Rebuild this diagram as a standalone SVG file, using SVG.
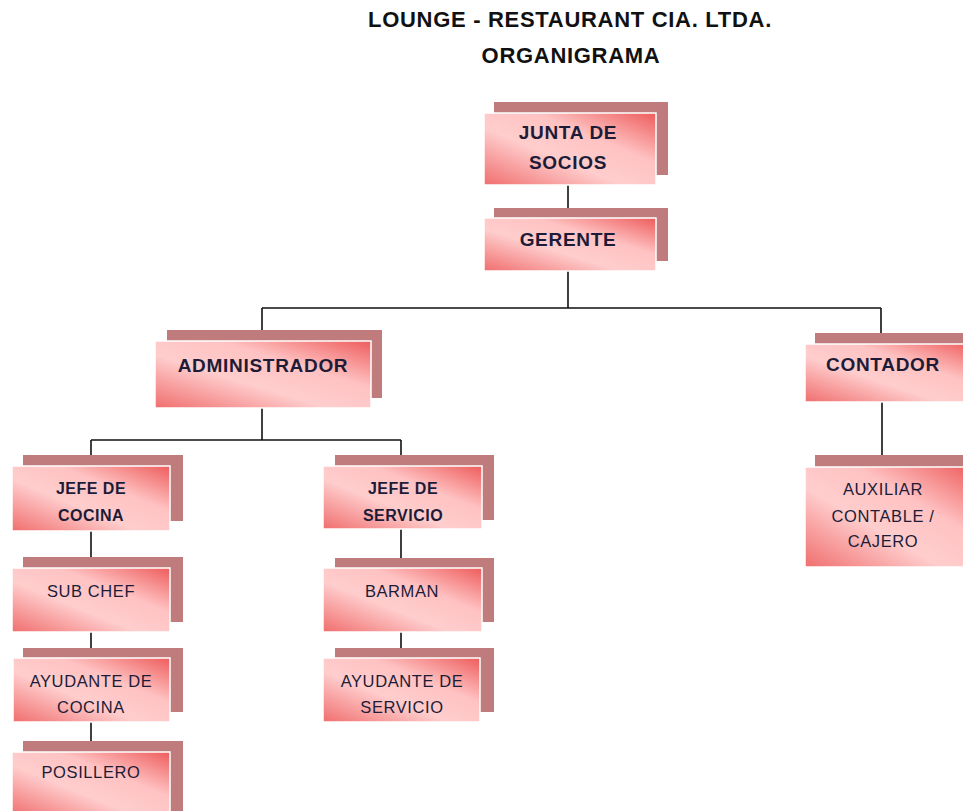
<svg xmlns="http://www.w3.org/2000/svg" width="963" height="811" viewBox="0 0 963 811">
  <defs>
    <linearGradient id="boxFill" x1="1" y1="0" x2="0" y2="1">
      <stop offset="0" stop-color="#ee5c5c"/>
      <stop offset="0.35" stop-color="#ffc2c2"/>
      <stop offset="0.6" stop-color="#ffcdcd"/>
      <stop offset="1" stop-color="#f06e6e"/>
    </linearGradient>
  </defs>
  <style>
    .shadow { fill: #c07c7c; }
    .box { fill: url(#boxFill); stroke: #ffffff; stroke-width: 1.5; }
    .title { font-family: "Liberation Sans", Arial, sans-serif; font-weight: bold; font-size: 22px; letter-spacing: 0.7px; fill: #111111; text-anchor: middle; }
    .lblB { font-family: "Liberation Sans", Arial, sans-serif; font-weight: bold; font-size: 19px; letter-spacing: 0.7px; fill: #1c1c38; text-anchor: middle; }
    .lblM { font-family: "Liberation Sans", Arial, sans-serif; font-weight: bold; font-size: 16px; letter-spacing: 0.5px; fill: #1c1c38; text-anchor: middle; }
    .lbl { font-family: "Liberation Sans", Arial, sans-serif; font-size: 16.5px; letter-spacing: 0.6px; fill: #1c1c38; text-anchor: middle; }
    .conn { fill: none; stroke: #111111; stroke-width: 1.6; }
  </style>

  <rect width="963" height="811" fill="#ffffff"/>

  <text class="title" x="570" y="27">LOUNGE - RESTAURANT CIA. LTDA.</text>
  <text class="title" x="571" y="63">ORGANIGRAMA</text>

  <!-- connectors between positions -->
  <g id="connectors">
    <path class="conn" d="M568 185 V218"/>
    <path class="conn" d="M568 271 V308 M262 308 H881 M262 308 V341 M881 308 V344"/>
    <path class="conn" d="M262 408 V440 M91 440 H401 M91 440 V466 M401 440 V466"/>
    <path class="conn" d="M91 531 V568 M91 632 V658 M91 722 V752"/>
    <path class="conn" d="M401 529 V568 M401 632 V658"/>
    <path class="conn" d="M882 402 V467"/>
  </g>

  <g id="junta">
    <rect class="shadow" x="494" y="102" width="174" height="73"/>
    <rect class="box" x="484" y="113" width="172" height="72"/>
    <text class="lblB" x="568" y="139">JUNTA DE</text>
    <text class="lblB" x="568" y="169">SOCIOS</text>
  </g>

  <g id="gerente">
    <rect class="shadow" x="494" y="208" width="174" height="53"/>
    <rect class="box" x="484" y="218" width="172" height="53"/>
    <text class="lblB" x="568" y="246">GERENTE</text>
  </g>

  <g id="administrador">
    <rect class="shadow" x="167" y="330" width="215" height="68"/>
    <rect class="box" x="155" y="341" width="216" height="67"/>
    <text class="lblB" x="263" y="372">ADMINISTRADOR</text>
  </g>

  <g id="contador">
    <rect class="shadow" x="815" y="333" width="160" height="60"/>
    <rect class="box" x="805" y="344" width="170" height="58"/>
    <text class="lblB" x="883" y="371">CONTADOR</text>
  </g>

  <g id="auxiliar">
    <rect class="shadow" x="815" y="455" width="160" height="100"/>
    <rect class="box" x="805" y="467" width="170" height="100"/>
    <text class="lbl" x="883" y="495">AUXILIAR</text>
    <text class="lbl" x="883" y="522">CONTABLE /</text>
    <text class="lbl" x="883" y="547">CAJERO</text>
  </g>

  <g id="jefe-cocina">
    <rect class="shadow" x="23" y="455" width="160" height="66"/>
    <rect class="box" x="12" y="466" width="158" height="65"/>
    <text class="lblM" x="91" y="494">JEFE DE</text>
    <text class="lblM" x="91" y="521">COCINA</text>
  </g>

  <g id="sub-chef">
    <rect class="shadow" x="23" y="557" width="160" height="65"/>
    <rect class="box" x="12" y="568" width="158" height="64"/>
    <text class="lbl" x="91" y="597">SUB CHEF</text>
  </g>

  <g id="ayudante-cocina">
    <rect class="shadow" x="23" y="648" width="160" height="64"/>
    <rect class="box" x="13" y="658" width="157" height="64"/>
    <text class="lbl" x="91" y="687">AYUDANTE DE</text>
    <text class="lbl" x="91" y="713">COCINA</text>
  </g>

  <g id="posillero">
    <rect class="shadow" x="23" y="741" width="160" height="70"/>
    <rect class="box" x="12" y="752" width="158" height="64"/>
    <text class="lbl" x="91" y="778">POSILLERO</text>
  </g>

  <g id="jefe-servicio">
    <rect class="shadow" x="335" y="455" width="159" height="65"/>
    <rect class="box" x="323" y="466" width="159" height="63"/>
    <text class="lblM" x="403" y="494">JEFE DE</text>
    <text class="lblM" x="403" y="521">SERVICIO</text>
  </g>

  <g id="barman">
    <rect class="shadow" x="335" y="558" width="159" height="64"/>
    <rect class="box" x="323" y="568" width="159" height="64"/>
    <text class="lbl" x="402" y="597">BARMAN</text>
  </g>

  <g id="ayudante-servicio">
    <rect class="shadow" x="335" y="648" width="159" height="64"/>
    <rect class="box" x="323" y="658" width="157" height="64"/>
    <text class="lbl" x="402" y="687">AYUDANTE DE</text>
    <text class="lbl" x="402" y="713">SERVICIO</text>
  </g>
</svg>
